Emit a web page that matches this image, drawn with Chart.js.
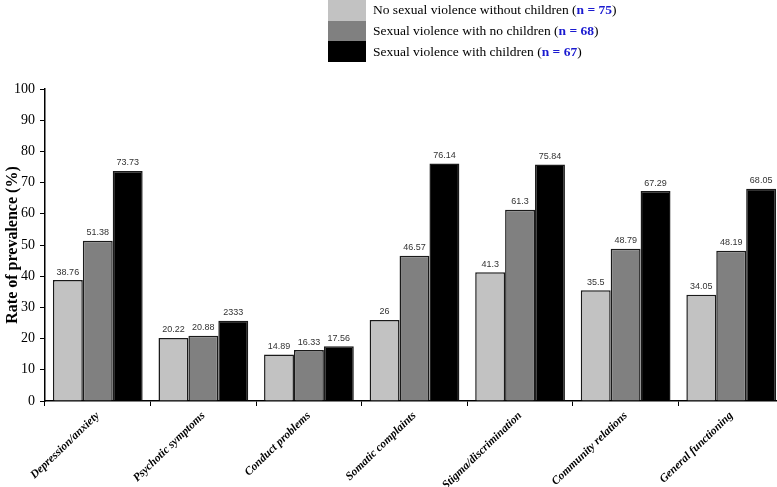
<!DOCTYPE html>
<html>
<head>
<meta charset="utf-8">
<script src="https://cdn.jsdelivr.net/npm/chart.js@4/dist/chart.umd.min.js"></script>
<style>
  html, body { margin: 0; padding: 0; overflow: hidden; background: #fff; }
  #wrap { position: relative; width: 784px; height: 487px; }
  #legend { position: absolute; left: 328px; top: 0; font-family: "Liberation Serif", serif; font-size: 13.5px; color: #000; }
  .row { display: flex; align-items: center; height: 20.7px; }
  .box { width: 38px; height: 20.7px; margin-right: 7px; }
  .n { color: #1a1ad0; font-weight: bold; }
</style>
</head>
<body>
<div id="wrap">
  <canvas id="myChart" width="784" height="487"></canvas>
  <div id="legend"></div>
</div>
<script>
const categories = [
  'Depression/anxiety',
  'Psychotic symptoms',
  'Conduct problems',
  'Somatic complaints',
  'Stigma/discrimination',
  'Community relations',
  'General functioning'
];

const seriesNames = [
  'No sexual violence without children',
  'Sexual violence with no children',
  'Sexual violence with children'
];
const seriesN = [75, 68, 67];
const seriesColors = ['#c2c2c2', '#808080', '#000000'];

const noViolence = [38.76, 20.22, 14.89, 26, 41.3, 35.5, 34.05];
const violenceNoChildren = [51.38, 20.88, 16.33, 46.57, 61.3, 48.79, 48.19];
const violenceChildren = [73.73, 25.7, 17.56, 76.14, 75.84, 67.29, 68.05];

// value labels as printed on the figure
const noViolenceLabels = ['38.76', '20.22', '14.89', '26', '41.3', '35.5', '34.05'];
const violenceNoChildrenLabels = ['51.38', '20.88', '16.33', '46.57', '61.3', '48.79', '48.19'];
const violenceChildrenLabels = ['73.73', '2333', '17.56', '76.14', '75.84', '67.29', '68.05'];

const yTicks = [0, 10, 20, 30, 40, 50, 60, 70, 80, 90, 100];

const allValues = [noViolence, violenceNoChildren, violenceChildren];
const allLabels = [noViolenceLabels, violenceNoChildrenLabels, violenceChildrenLabels];

// html legend
var lg = document.getElementById('legend');
seriesNames.forEach(function(name, i) {
  var row = document.createElement('div');
  row.className = 'row';
  row.innerHTML = '<div class="box" style="background:' + seriesColors[i] + '"></div>' +
    '<span>' + name + ' (<span class="n">n = ' + seriesN[i] + '</span>)</span>';
  lg.appendChild(row);
});

const valueLabels = {
  id: 'valueLabels',
  afterDatasetsDraw(chart) {
    const ctx = chart.ctx;
    ctx.save();
    ctx.font = '9px "Liberation Sans", Arial, sans-serif';
    ctx.fillStyle = '#333';
    ctx.textAlign = 'center';
    ctx.textBaseline = 'middle';
    chart.data.datasets.forEach(function(ds, i) {
      chart.getDatasetMeta(i).data.forEach(function(bar, j) {
        ctx.fillText(allLabels[i][j], bar.x, bar.y - 8);
      });
    });
    ctx.restore();
  }
};

window.onload = function() {
  const ctx = document.getElementById('myChart');
  const data = {
    labels: categories,
    datasets: seriesNames.map(function(name, i) {
      return {
        label: name,
        data: allValues[i],
        backgroundColor: seriesColors[i],
        borderColor: '#1a1a1a',
        borderWidth: 1.5,
        barPercentage: 1,
        categoryPercentage: 0.85
      };
    })
  };

  const config = {
    type: 'bar',
    data: data,
    options: {
      responsive: false,
      animation: false,
      layout: { padding: { top: 89, right: 0, left: 0, bottom: 0 } },
      plugins: { legend: { display: false }, tooltip: { enabled: false } },
      scales: {
        x: {
          grid: { drawOnChartArea: false, color: '#000', tickLength: 5, tickColor: '#000' },
          border: { color: '#000', width: 1.5 },
          ticks: {
            autoSkip: false,
            minRotation: 44,
            maxRotation: 44,
            color: '#000',
            padding: 3,
            font: { family: '"Liberation Serif", serif', size: 11.5, style: 'italic', weight: 'bold' }
          },
          afterFit(scale) { scale.height = 86; }
        },
        y: {
          min: 0,
          max: 100,
          afterBuildTicks(scale) { scale.ticks = yTicks.map(function(v) { return { value: v }; }); },
          grid: { drawOnChartArea: false, color: '#000', tickLength: 5, tickColor: '#000' },
          border: { color: '#000', width: 1.5 },
          ticks: {
            color: '#000',
            padding: 5,
            font: { family: '"Liberation Serif", serif', size: 14 }
          },
          title: {
            display: true,
            text: 'Rate of prevalence (%)',
            color: '#000',
            padding: { top: 3, bottom: 0 },
            font: { family: '"Liberation Serif", serif', size: 16, weight: 'bold' }
          },
          afterFit(scale) { scale.width = 45; }
        }
      }
    },
    plugins: [valueLabels]
  };

  new Chart(ctx, config);
};
</script>
</body>
</html>
